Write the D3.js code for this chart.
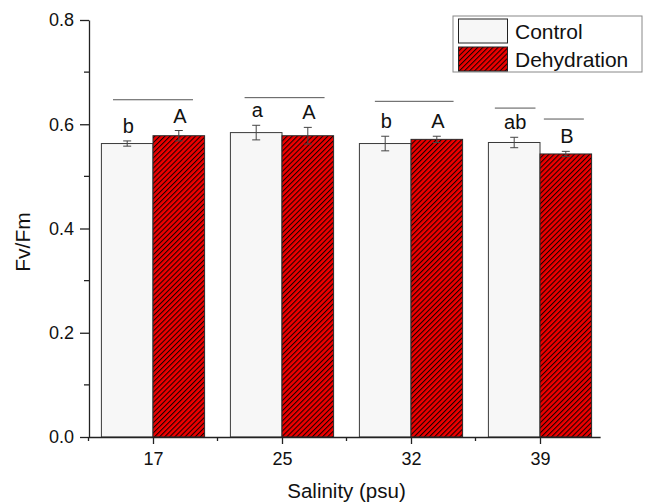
<!DOCTYPE html>
<html>
<head>
<meta charset="utf-8">
<script src="https://cdn.jsdelivr.net/npm/d3@7"></script>
<style>
  body { margin: 0; background: #fff; }
  svg { display: block; }
  text { font-family: Arial, "Liberation Sans", sans-serif; fill: #111; }
</style>
</head>
<body>
<svg id="chart" width="649" height="503"></svg>
<script>
// Salinity groups and Fv/Fm means ± error
const salinity = ["17", "25", "32", "39"];
const controlMean = [0.563, 0.584, 0.563, 0.565];
const controlErr  = [0.005, 0.014, 0.014, 0.010];
const dehydMean   = [0.578, 0.578, 0.571, 0.543];
const dehydErr    = [0.010, 0.016, 0.006, 0.005];
const controlLetters = ["b", "a", "b", "ab"];
const dehydLetters   = ["A", "A", "A", "B"];
const yTicks = [0, 0.2, 0.4, 0.6, 0.8];
const yMinorTicks = [0.1, 0.3, 0.5, 0.7];
const seriesNames = ["Control", "Dehydration"];
// significance grouping lines: group index, from/to offsets in group units, height in Fv/Fm units
const lineGroup = [0, 1, 2, 3, 3];
const lineFrom  = [-0.31, -0.29, -0.28, -0.35, 0.03];
const lineTo    = [0.31, 0.33, 0.33, -0.035, 0.34];
const lineY     = [0.647, 0.651, 0.644, 0.631, 0.610];

const svg = d3.select("#chart");
const plotLeft = 89, plotRight = 604.5, plotTop = 20, plotBottom = 437;

const x = d3.scaleLinear().domain([-0.5, 3.5]).range([88.5, plotRight]);
const y = d3.scaleLinear().domain([0, 0.8]).range([plotBottom, plotTop]);
const halfBar = 0.4;

// hatch pattern for the dehydration bars
const defs = svg.append("defs");
const pat = defs.append("pattern")
  .attr("id", "hatch")
  .attr("patternUnits", "userSpaceOnUse")
  .attr("width", 3.6).attr("height", 3.6)
  .attr("patternTransform", "rotate(45)");
pat.append("rect").attr("width", 3.6).attr("height", 3.6).attr("fill", "#ee0000");
pat.append("line").attr("x1", 0.5).attr("y1", 0).attr("x2", 0.5).attr("y2", 3.6)
  .attr("stroke", "#1a0000").attr("stroke-width", 1.1);

const idx = d3.range(salinity.length);

// bars
svg.append("g").selectAll("rect").data(idx).join("rect")
  .attr("x", i => x(i - halfBar)).attr("width", i => x(i) - x(i - halfBar))
  .attr("y", i => y(controlMean[i])).attr("height", i => y(0) - y(controlMean[i]))
  .attr("fill", "#f7f7f7").attr("stroke", "#3a3a3a").attr("stroke-width", 1);

svg.append("g").selectAll("rect").data(idx).join("rect")
  .attr("x", i => x(i)).attr("width", i => x(i + halfBar) - x(i))
  .attr("y", i => y(dehydMean[i])).attr("height", i => y(0) - y(dehydMean[i]))
  .attr("fill", "url(#hatch)").attr("stroke", "#2a2a2a").attr("stroke-width", 1);

// error bars
function errorBars(means, errs, offset) {
  const g = svg.append("g").attr("stroke", "#444").attr("stroke-width", 1).attr("fill", "none");
  idx.forEach(i => {
    const cx = x(i + offset);
    const y1 = y(means[i] + errs[i]), y2 = y(means[i] - errs[i]);
    g.append("line").attr("x1", cx).attr("x2", cx).attr("y1", y1).attr("y2", y2);
    g.append("line").attr("x1", cx - 4).attr("x2", cx + 4).attr("y1", y1).attr("y2", y1);
    g.append("line").attr("x1", cx - 4).attr("x2", cx + 4).attr("y1", y2).attr("y2", y2);
  });
}
errorBars(controlMean, controlErr, -halfBar / 2);
errorBars(dehydMean, dehydErr, halfBar / 2);

// significance letters
function letters(means, errs, labels, offset) {
  svg.append("g").selectAll("text").data(idx).join("text")
    .attr("x", i => x(i + offset) + 1)
    .attr("y", i => y(means[i] + errs[i]) - 8)
    .attr("text-anchor", "middle")
    .attr("font-size", 20)
    .text(i => labels[i]);
}
letters(controlMean, controlErr, controlLetters, -halfBar / 2);
letters(dehydMean, dehydErr, dehydLetters, halfBar / 2);

// grouping lines
svg.append("g").selectAll("line").data(d3.range(lineGroup.length)).join("line")
  .attr("x1", k => x(lineGroup[k] + lineFrom[k])).attr("x2", k => x(lineGroup[k] + lineTo[k]))
  .attr("y1", k => y(lineY[k])).attr("y2", k => y(lineY[k]))
  .attr("stroke", "#555").attr("stroke-width", 1);

// y axis
const yAxis = svg.append("g").attr("transform", `translate(${plotLeft},0)`)
  .call(d3.axisLeft(y).tickValues(yTicks).tickSize(9).tickSizeOuter(0)
    .tickPadding(6).tickFormat(d3.format(".1f")));
yAxis.selectAll("text").attr("font-size", 18).attr("font-family", "Arial, 'Liberation Sans', sans-serif");
yAxis.selectAll("path, line").attr("stroke", "#222").attr("stroke-width", 1.3);
svg.append("g").selectAll("line").data(yMinorTicks).join("line")
  .attr("x1", plotLeft - 5).attr("x2", plotLeft).attr("y1", d => y(d)).attr("y2", d => y(d))
  .attr("stroke", "#222").attr("stroke-width", 1.3);

// x axis
const xAxis = svg.append("g").attr("transform", `translate(0,${plotBottom})`)
  .call(d3.axisBottom(x).tickValues(idx).tickSize(7).tickSizeOuter(0)
    .tickPadding(8).tickFormat(i => salinity[i]));
xAxis.select(".domain").attr("d", `M${plotLeft},0.5H${x(3.47)}`);
xAxis.selectAll("text").attr("font-size", 18).attr("font-family", "Arial, 'Liberation Sans', sans-serif");
xAxis.selectAll("path, line").attr("stroke", "#222").attr("stroke-width", 1.3);
svg.append("g").selectAll("line").data([-0.5, 0.5, 1.5, 2.5]).join("line")
  .attr("x1", d => x(d)).attr("x2", d => x(d)).attr("y1", plotBottom).attr("y2", plotBottom + 4)
  .attr("stroke", "#222").attr("stroke-width", 1.3);

// axis titles
svg.append("text").attr("transform", "translate(30,242) rotate(-90)")
  .attr("text-anchor", "middle").attr("font-size", 21).text("Fv/Fm");
svg.append("text").attr("x", 346.5).attr("y", 498)
  .attr("text-anchor", "middle").attr("font-size", 20.5).text("Salinity (psu)");

// legend
const lg = svg.append("g");
lg.append("rect").attr("x", 453).attr("y", 16).attr("width", 189).attr("height", 56)
  .attr("fill", "#fff").attr("stroke", "#888").attr("stroke-width", 1);
const swatchFill = ["#f7f7f7", "url(#hatch)"];
seriesNames.forEach((name, k) => {
  const yy = 19 + k * 28;
  lg.append("rect").attr("x", 458.5).attr("y", yy).attr("width", 49).attr("height", 24)
    .attr("fill", swatchFill[k]).attr("stroke", "#222").attr("stroke-width", 1);
  lg.append("text").attr("x", 515).attr("y", yy + 19.5).attr("font-size", 21).text(name);
});
</script>
</body>
</html>
